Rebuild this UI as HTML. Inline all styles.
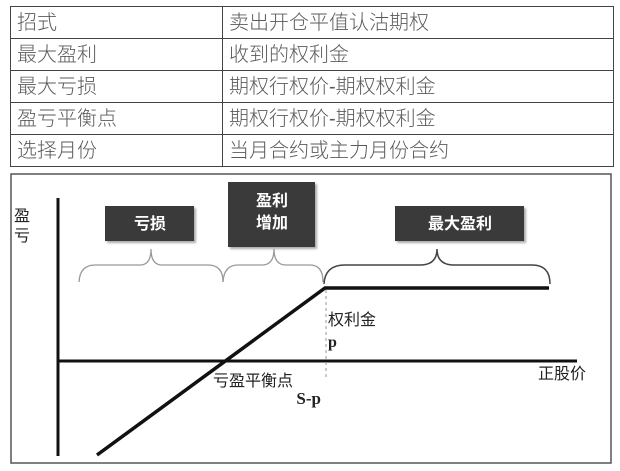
<!DOCTYPE html>
<html><head><meta charset="utf-8"><style>
html,body{margin:0;padding:0;background:#fff;}
body{width:620px;height:471px;position:relative;overflow:hidden;font-family:"Liberation Sans","Noto Sans CJK SC",sans-serif;}
table{position:absolute;left:10px;top:6px;width:604px;border-collapse:collapse;}
td{border:1.5px solid #444;height:32px;padding:0 0 0 6px;font-size:20px;color:#5a5a5a;line-height:30px;font-family:"Liberation Sans","Noto Sans CJK SC",sans-serif;font-weight:300;box-sizing:border-box;}
td.a{width:212px;}
</style></head><body>
<table>
<tr><td class="a">招式</td><td>卖出开仓平值认沽期权</td></tr>
<tr><td class="a">最大盈利</td><td>收到的权利金</td></tr>
<tr><td class="a">最大亏损</td><td>期权行权价-期权权利金</td></tr>
<tr><td class="a">盈亏平衡点</td><td>期权行权价-期权权利金</td></tr>
<tr><td class="a">选择月份</td><td>当月合约或主力月份合约</td></tr>
</table>
<svg width="620" height="471" style="position:absolute;left:0;top:0" font-family="Liberation Sans, Noto Sans CJK SC, sans-serif">
<rect x="11" y="174" width="600" height="289" fill="none" stroke="#555" stroke-width="1.5"/>
<line x1="58" y1="198" x2="58" y2="456" stroke="#111" stroke-width="3"/>
<line x1="58" y1="361" x2="577" y2="361" stroke="#111" stroke-width="3"/>
<polyline points="97,455 325,288 549,288" fill="none" stroke="#111" stroke-width="3.5"/>
<line x1="326" y1="290" x2="326" y2="378" stroke="#999" stroke-width="1" stroke-dasharray="3,3"/>
<g fill="#3a3a3a" style="filter:drop-shadow(2px 2px 1px #aaa)">
<rect x="105" y="206" width="89" height="35"/>
<rect x="228" y="182" width="87" height="65"/>
<rect x="395" y="206" width="129" height="35"/>
</g>
<g fill="#fff" font-weight="bold" font-size="16" text-anchor="middle">
<text x="150" y="229">亏损</text>
<text x="272" y="206">盈利</text>
<text x="272" y="228">增加</text>
<text x="460" y="229">最大盈利</text>
</g>
<g fill="none" stroke="#999" stroke-width="1.3">
<path d="M79,282 Q80,265 95,265 L140,265 Q151,265 151,249 Q151,265 162,265 L208,265 Q223,265 223,282"/>
<path d="M223,282 Q224,265 238,265 L262,265 Q274,265 274,249 Q274,265 286,265 L310,265 Q323,265 323,282"/>
</g>
<path d="M324,284 Q325,265 345,265 L420,265 Q437,265 437,249 Q437,265 454,265 L532,265 Q550,265 550,284" fill="none" stroke="#444" stroke-width="1.5"/>
<g fill="#222" font-size="16">
<text x="14" y="221">盈</text>
<text x="14" y="241">亏</text>
<text x="328" y="325">权利金</text>
<text x="328" y="347" font-family="Liberation Serif, serif" font-weight="bold">p</text>
<text x="213" y="386">亏盈平衡点</text>
<text x="321" y="404" text-anchor="end" font-size="17" font-family="Liberation Serif, serif" font-weight="bold">S-p</text>
<text x="538" y="379">正股价</text>
</g>
</svg>
</body></html>
